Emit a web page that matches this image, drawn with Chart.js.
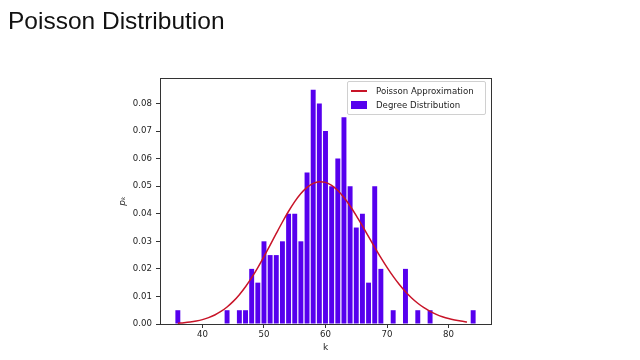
<!DOCTYPE html>
<html>
<head>
<meta charset="utf-8">
<script src="https://cdn.jsdelivr.net/npm/chart.js@4/dist/chart.umd.min.js"></script>
<style>
  html, body { margin: 0; padding: 0; background: #fff; }
  #wrap { position: relative; width: 640px; height: 360px; overflow: hidden; }
  #title {
    position: absolute; left: 8px; top: 9px;
    font-family: "Liberation Sans", Arial, sans-serif; font-size: 24.5px; line-height: 24px;
    color: #111;
  }
  #legend {
    position: absolute; left: 347px; top: 81px; width: 137px; height: 32px;
    border: 1px solid #d0d0d0; border-radius: 2px; background: rgba(255,255,255,0.85);
    font-family: "DejaVu Sans", sans-serif; font-size: 8.6px; color: #222;
  }
  .item { position: absolute; left: 0; width: 137px; height: 12px; line-height: 12px; }
  .item span { position: absolute; left: 28px; white-space: nowrap; }
  .swatch-line { position: absolute; left: 3px; top: 5px; width: 16px; height: 2px; background: #c81428; }
  .swatch-bar { position: absolute; left: 3px; top: 2px; width: 16px; height: 8px; background: #5600ee; }
  canvas { position: absolute; left: 0; top: 0; }
</style>
</head>
<body>
<div id="wrap">
  <canvas id="chart" width="640" height="360"></canvas>
  <div id="title">Poisson Distribution</div>
  <div id="legend">
    <div class="item" style="top:3px"><div class="swatch-line"></div><span>Poisson Approximation</span></div>
    <div class="item" style="top:17px"><div class="swatch-bar"></div><span>Degree Distribution</span></div>
  </div>
</div>
<script>
// Histogram derajat (k -> p_k)
const degreeK = [36, 44, 46, 47, 48, 49, 50, 51, 52, 53, 54, 55, 56, 57, 58, 59, 60,
                 61, 62, 63, 64, 65, 66, 67, 68, 69, 71, 73, 75, 77, 84];
const degreeP = [0.005, 0.005, 0.005, 0.005, 0.020, 0.015, 0.030, 0.025, 0.025, 0.030, 0.040, 0.040, 0.030, 0.055, 0.085, 0.080, 0.070,
                 0.050, 0.060, 0.075, 0.050, 0.035, 0.040, 0.015, 0.050, 0.020, 0.005, 0.020, 0.005, 0.005, 0.005];

// Kurva Poisson (perkiraan nilai tiap k)
const poissonK = [36, 37, 38, 39, 40, 41, 42, 43, 44, 45, 46, 47, 48, 49, 50, 51, 52, 53, 54, 55, 56, 57, 58, 59,
                  60, 61, 62, 63, 64, 65, 66, 67, 68, 69, 70, 71, 72, 73, 74, 75, 76, 77, 78, 79, 80, 81, 82, 83];
const poissonP = [0.00027, 0.00044, 0.00069, 0.00106, 0.00158, 0.00231, 0.00328, 0.00455, 0.00618, 0.00820, 0.01064, 0.01351,
                  0.01680, 0.02047, 0.02444, 0.02861, 0.03285, 0.03701, 0.04091, 0.04441, 0.04735, 0.04959, 0.05104, 0.05165,
                  0.05139, 0.05030, 0.04843, 0.04589, 0.04281, 0.03932, 0.03557, 0.03169, 0.02782, 0.02407, 0.02053, 0.01726,
                  0.01431, 0.01170, 0.00944, 0.00752, 0.00590, 0.00458, 0.00350, 0.00265, 0.00197, 0.00146, 0.00106, 0.00076];

// Tick labels
const xTicks = [40, 50, 60, 70, 80];
const yTicks = [0, 0.01, 0.02, 0.03, 0.04, 0.05, 0.06, 0.07, 0.08];

const tickFont = { family: 'DejaVu Sans', size: 8.6 };

// Bingkai penuh (spine atas & kanan)
const framePlugin = {
    id: 'frame',
    afterDatasetsDraw(chart) {
        const { ctx, chartArea: a } = chart;
        ctx.save();
        ctx.strokeStyle = '#333';
        ctx.lineWidth = 1;
        ctx.strokeRect(Math.round(a.left) + 0.5, Math.round(a.top) + 0.5,
                       Math.round(a.right - a.left), Math.round(a.bottom - a.top));
        ctx.restore();
    }
};

new Chart(document.getElementById('chart'), {
    type: 'bar',
    data: {
        datasets: [
            {
                type: 'line',
                label: 'Poisson Approximation',
                data: poissonK.map((k, i) => ({ x: k, y: poissonP[i] })),
                borderColor: '#c81428',
                borderWidth: 1.5,
                pointRadius: 0,
                cubicInterpolationMode: 'monotone',
                fill: false,
                order: 0
            },
            {
                type: 'bar',
                label: 'Degree Distribution',
                data: degreeK.map((k, i) => ({ x: k, y: degreeP[i] })),
                backgroundColor: '#5600ee',
                borderWidth: 0,
                categoryPercentage: 1.0,
                barPercentage: 0.8,
                order: 1
            }
        ]
    },
    options: {
        responsive: false,
        animation: false,
        layout: { padding: { left: 110, right: 149, top: 78, bottom: 0 } },
        plugins: {
            legend: { display: false },
            tooltip: { enabled: false }
        },
        scales: {
            x: {
                type: 'linear',
                min: 33.1,
                max: 86.9,
                offset: false,
                afterBuildTicks: s => { s.ticks = xTicks.map(v => ({ value: v })); },
                afterFit: s => { s.height = 36; },
                grid: { display: true, offset: false, drawOnChartArea: false, drawTicks: true, tickLength: 4, color: '#333' },
                border: { display: true, color: '#333' },
                ticks: { font: tickFont, color: '#222', padding: 2, maxRotation: 0 },
                title: { display: true, text: 'k', font: { family: 'DejaVu Sans', size: 9 }, color: '#222', padding: { top: 0, bottom: 6.6 } }
            },
            y: {
                min: 0,
                max: 0.08925,
                afterBuildTicks: s => { s.ticks = yTicks.map(v => ({ value: v })); },
                afterFit: s => { s.width = 50; },
                grid: { display: true, drawOnChartArea: false, drawTicks: true, tickLength: 4, color: '#333' },
                border: { display: true, color: '#333' },
                ticks: { font: tickFont, color: '#222', padding: 4, callback: v => v.toFixed(2) },
                title: { display: true, text: 'pₖ', font: { family: 'DejaVu Sans', size: 9, style: 'italic' }, color: '#222', padding: { top: 7.6, bottom: 0 } }
            }
        }
    },
    plugins: [framePlugin]
});
</script>
</body>
</html>
